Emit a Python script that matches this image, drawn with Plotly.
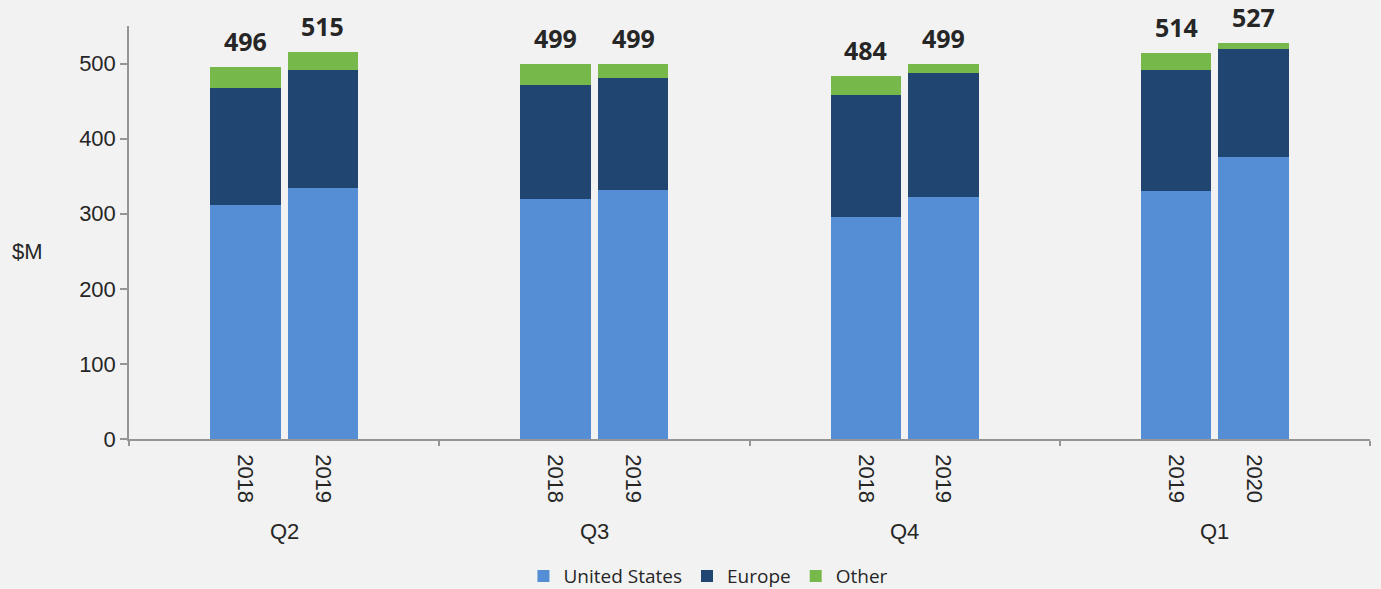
import plotly.graph_objects as go

# Quarterly revenue by region, $M (each quarter compares the same quarter across two years)
quarters = ["Q2", "Q3", "Q4", "Q1"]
years = [["2018", "2019"], ["2018", "2019"], ["2018", "2019"], ["2019", "2020"]]

united_states = [311, 334, 319, 331, 296, 322, 330, 375]
europe = [157, 158, 153, 150, 162, 166, 161, 144]
other = [28, 23, 27, 18, 26, 11, 23, 8]
totals = [496, 515, 499, 499, 484, 499, 514, 527]

COLORS = {"United States": "#558ED5", "Europe": "#1F4570", "Other": "#76B84A"}
TEXT = "#262626"
AXIS = "#959595"
ARIAL = "Liberation Sans, Arial, sans-serif"

# each quarter occupies 4 slots on a numeric axis; its two bars sit in the middle
slots_per_group = 4
x_pos, x_text = [], []
for g, yrs in enumerate(years):
    for k, yr in enumerate(yrs):
        x_pos.append(g * slots_per_group + 1.5 + k)
        x_text.append(yr)
group_centers = [g * slots_per_group + 2 for g in range(len(quarters))]
group_edges = [g * slots_per_group for g in range(len(quarters) + 1)]

fig = go.Figure()
for name, vals in [("United States", united_states), ("Europe", europe), ("Other", other)]:
    fig.add_trace(go.Bar(
        x=x_pos, y=vals, name=name, width=0.91,
        marker=dict(color=COLORS[name], line=dict(width=0)),
        hoverinfo="skip",
    ))

# totals above each stack
for x, t in zip(x_pos, totals):
    fig.add_annotation(
        x=x, y=t, text=f"<b>{t}</b>", showarrow=False,
        yanchor="bottom", yshift=7,
        font=dict(family="Open Sans, DejaVu Sans, sans-serif", size=25, color=TEXT),
    )

# quarter labels under the year ticks
for xc, q in zip(group_centers, quarters):
    fig.add_annotation(
        x=xc, y=0, yref="paper", text=q, showarrow=False,
        yanchor="middle", yshift=-92,
        font=dict(family=ARIAL, size=22, color=TEXT),
    )

# unit label
fig.add_annotation(
    x=-0.0816, y=0.454, xref="paper", yref="paper", text="$M", showarrow=False,
    xanchor="center", yanchor="middle",
    font=dict(family=ARIAL, size=22, color=TEXT),
)

fig.update_layout(
    barmode="stack",
    width=1381, height=589,
    margin=dict(l=129, r=11, t=26, b=150),
    paper_bgcolor="#F2F2F2", plot_bgcolor="#F2F2F2",
    font=dict(family=ARIAL, color=TEXT),
    legend=dict(
        orientation="h", xref="container", x=0.513, xanchor="center",
        yref="container", y=0.022, yanchor="middle",
        font=dict(family="Open Sans, sans-serif", size=19, color=TEXT),
        itemwidth=30, tracegroupgap=0, traceorder="normal",
    ),
    xaxis=dict(
        range=[0, group_edges[-1]],
        tickmode="array", tickvals=x_pos, ticktext=x_text,
        tickangle=90, ticks="", ticklabelstandoff=9,
        tickfont=dict(size=22, color=TEXT),
        showline=True, linecolor=AXIS, linewidth=1.5,
        showgrid=False, zeroline=False, fixedrange=True,
        minor=dict(tickmode="array", tickvals=group_edges, ticks="outside",
                   ticklen=5, tickcolor=AXIS, tickwidth=1.5, showgrid=False),
    ),
    yaxis=dict(
        range=[0, 550],
        tickmode="array", tickvals=[0, 100, 200, 300, 400, 500],
        ticks="outside", ticklen=7, tickcolor=AXIS, tickwidth=1.5,
        tickfont=dict(size=22, color=TEXT),
        showline=True, linecolor=AXIS, linewidth=1.5,
        showgrid=False, zeroline=False, fixedrange=True,
    ),
)

fig.write_html("out.html", config={"displayModeBar": False})
